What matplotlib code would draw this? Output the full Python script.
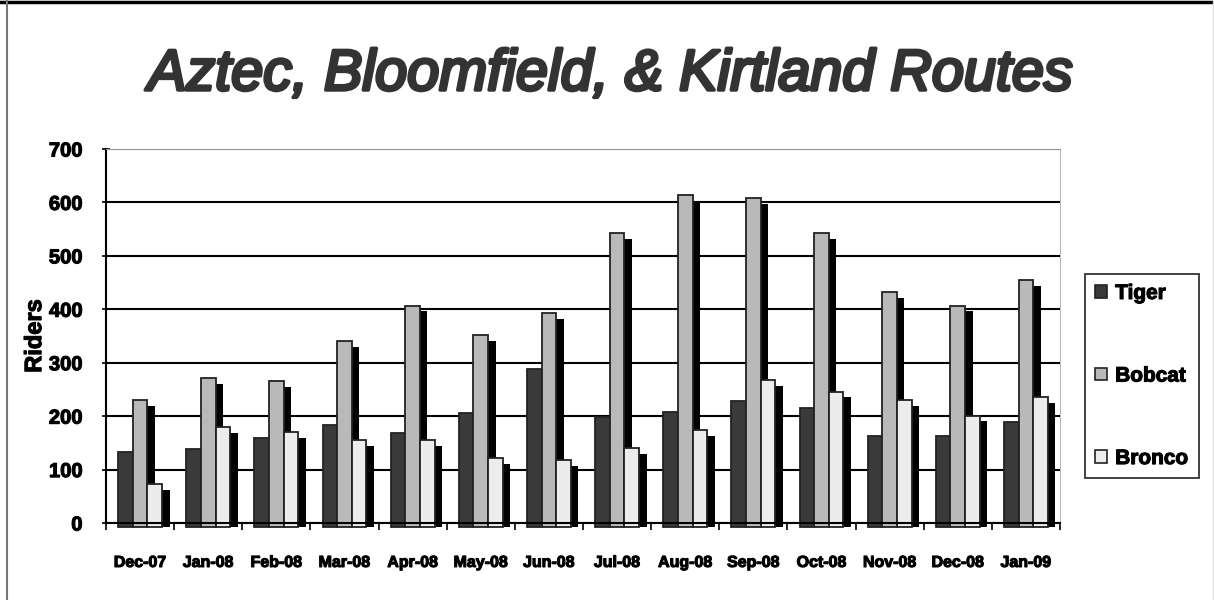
import matplotlib
matplotlib.use("Agg")
import matplotlib.pyplot as plt
import matplotlib.patheffects as pe
from matplotlib.lines import Line2D
from matplotlib.patches import Patch
import numpy as np

months = ["Dec-07", "Jan-08", "Feb-08", "Mar-08", "Apr-08", "May-08", "Jun-08",
          "Jul-08", "Aug-08", "Sep-08", "Oct-08", "Nov-08", "Dec-08", "Jan-09"]
tiger = [133, 138, 160, 183, 168, 205, 288, 199, 208, 228, 216, 163, 163, 189]
bobcat = [230, 272, 265, 340, 407, 351, 393, 542, 613, 608, 542, 432, 407, 455]
bronco = [73, 179, 170, 155, 155, 121, 118, 140, 174, 268, 246, 230, 201, 235]
series = ["Tiger", "Bobcat", "Bronco"]
colors = ["#3a3a3a", "#b9b9b9", "#ececec"]

W, H = 1214, 600
SANS = ["Liberation Sans Narrow", "Liberation Sans", "DejaVu Sans"]
heavy = [pe.withStroke(linewidth=0.8, foreground="black")]

fig = plt.figure(figsize=(W / 100, H / 100), dpi=100)
ax = fig.add_axes([106 / W, 1 - 523 / H, (1060 - 106) / W, (523 - 149) / H])

x = np.arange(len(months))
bw = 0.215
shadow_dx = 0.11
shadow_dy = 11
base = -7  # bars sit a little below the floor line

for k, (vals, col) in enumerate(zip([tiger, bobcat, bronco], colors)):
    pos = x + (k - 1) * bw
    v = np.asarray(vals, dtype=float)
    # black drop shadow to the right
    ax.bar(pos + shadow_dx, v - shadow_dy - base, bw, bottom=base,
           color="black", edgecolor="none", zorder=2 + 2 * k, clip_on=False)
    ax.bar(pos, v - base, bw, bottom=base, color=col, edgecolor="#222222",
           linewidth=1.3, zorder=3 + 2 * k, clip_on=False)

ax.set_xlim(-0.5, len(months) - 0.5)
ax.set_ylim(0, 700)
ax.set_yticks(range(0, 701, 100))
ax.yaxis.grid(True, color="black", linewidth=1.5, zorder=1)
ax.set_axisbelow(True)

ax.set_xticks(x)
ax.set_xticklabels(months, fontsize=11.5, fontweight="bold", family=SANS)
for lab in ax.get_xticklabels():
    lab.set_path_effects(heavy)
ax.tick_params(axis="x", length=0, pad=23)
# small marks between the month groups
ax.set_xticks(np.arange(-0.5, len(months)), minor=True)
ax.tick_params(axis="x", which="minor", length=5, width=1.2, direction="out")
ax.tick_params(axis="y", length=6, width=1.2, direction="inout", pad=14)
for lab in ax.get_yticklabels():
    lab.set_fontsize(14.5)
    lab.set_fontweight("bold")
    lab.set_family(SANS)
    lab.set_path_effects(heavy)

ax.set_ylabel("Riders", fontsize=17, fontweight="bold", family=SANS,
              labelpad=2, path_effects=heavy)

ax.spines["left"].set_linewidth(1.5)
ax.spines["bottom"].set_linewidth(1.5)
ax.spines["bottom"].set_zorder(10)
ax.spines["top"].set_color("#9a9a9a")
ax.spines["right"].set_color("#bbbbbb")

handles = [Patch(facecolor=c, edgecolor="#222222", linewidth=1.2) for c in colors]
leg = fig.legend(handles, series, loc="center left",
                 bbox_to_anchor=(1085 / W, 1 - 376 / H),
                 frameon=True, fancybox=False, edgecolor="black",
                 prop={"family": SANS, "weight": "bold", "size": 15},
                 handlelength=0.55, handleheight=0.55, handletextpad=0.4,
                 labelspacing=3.05, borderpad=0.5, borderaxespad=0)
leg.get_frame().set_linewidth(1.3)
for t in leg.get_texts():
    t.set_path_effects(heavy)

title = fig.text(610 / W, 1 - 75 / H, "Aztec, Bloomfield, & Kirtland Routes",
                 ha="center", va="center", color="#333333", style="italic",
                 family=SANS, fontsize=50,
                 path_effects=[pe.withStroke(linewidth=2.5, foreground="#333333")])
# fit the title to its width in the reference
fig.canvas.draw()
w = title.get_window_extent().width
title.set_fontsize(50 * 925 / w)

# frame round the whole picture
fig.add_artist(Line2D([0, 1], [1 - 2 / H, 1 - 2 / H], color="black", linewidth=2.5))
fig.add_artist(Line2D([7 / W, 7 / W], [0, 1], color="#777777", linewidth=1.5))
fig.add_artist(Line2D([1 - 1.5 / W, 1 - 1.5 / W], [0, 1], color="#dddddd", linewidth=1))

fig.savefig("out.png", dpi=100)
